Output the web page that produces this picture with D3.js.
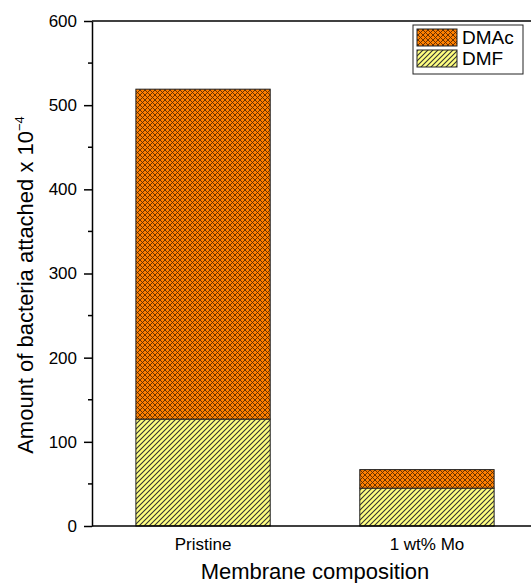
<!DOCTYPE html>
<html>
<head>
<meta charset="utf-8">
<script src="https://cdn.jsdelivr.net/npm/d3@7"></script>
<style>
  body { margin: 0; background: #fff; }
  text { font-family: Arial, 'Liberation Sans', sans-serif; }
</style>
</head>
<body>
<div id="chart"></div>
<script>
const width = 531;
const height = 583;

// data
const categories = ['Pristine', '1 wt% Mo'];
const series = ['DMF', 'DMAc'];
const dmfValues = [127, 45];
const dmacValues = [392, 22]; // stacked on top of DMF
const yTicks = [0, 100, 200, 300, 400, 500, 600];

const margin = { top: 21, bottom: 57, left: 92 };

const svg = d3.select('#chart').append('svg').attr('width', width).attr('height', height);

// patterns
const defs = svg.append('defs');
const pDmf = defs.append('pattern')
	.attr('id', 'hatchDmf')
	.attr('patternUnits', 'userSpaceOnUse')
	.attr('width', 5).attr('height', 5);
pDmf.append('rect').attr('width', 5).attr('height', 5).attr('fill', '#ffff80');
pDmf.append('path').attr('d', 'M-1,1 l2,-2 M0,5 l5,-5 M4,6 l2,-2')
	.attr('stroke', '#333').attr('stroke-width', 1.1);

const pDmac = defs.append('pattern')
	.attr('id', 'hatchDmac')
	.attr('patternUnits', 'userSpaceOnUse')
	.attr('width', 5).attr('height', 5);
pDmac.append('rect').attr('width', 5).attr('height', 5).attr('fill', '#ff8000');
pDmac.append('path').attr('d', 'M-1,1 l2,-2 M0,5 l5,-5 M4,6 l2,-2 M-1,4 l2,2 M0,0 l5,5 M4,-1 l2,2')
	.attr('stroke', '#5a2a00').attr('stroke-width', 0.9);

const x = d3.scaleBand()
	.domain(categories)
	.range([margin.left, 538])
	.paddingInner(0.4)
	.paddingOuter(0.196);

const y = d3.scaleLinear()
	.domain([0, 600])
	.range([height - margin.bottom, margin.top]);

// stacked bars
const rows = categories.map((c, i) => ({ cat: c, DMF: dmfValues[i], DMAc: dmacValues[i] }));
const stack = d3.stack().keys(series)(rows);
const fills = { DMF: 'url(#hatchDmf)', DMAc: 'url(#hatchDmac)' };

svg.append('g')
	.selectAll('g')
	.data(stack)
	.join('g')
	.attr('fill', (d) => fills[d.key])
	.selectAll('rect')
	.data((d) => d)
	.join('rect')
	.attr('x', (d) => x(d.data.cat))
	.attr('y', (d) => y(d[1]))
	.attr('width', x.bandwidth())
	.attr('height', (d) => y(d[0]) - y(d[1]))
	.attr('stroke', '#222')
	.attr('stroke-width', 1);

// y axis
const yAxis = svg.append('g')
	.attr('transform', `translate(${margin.left},0)`)
	.call(d3.axisLeft(y).tickValues(yTicks).tickSize(8).tickPadding(7).tickSizeOuter(0));
yAxis.select('.domain').attr('stroke', '#000').attr('stroke-width', 1.5);
yAxis.selectAll('.tick line').attr('stroke', '#000').attr('stroke-width', 1.5);
yAxis.selectAll('.tick text').style('font-size', '17px').attr('fill', '#000');

// minor ticks
svg.append('g')
	.selectAll('line')
	.data(d3.range(50, 600, 100))
	.join('line')
	.attr('x1', margin.left - 4)
	.attr('x2', margin.left)
	.attr('y1', (d) => y(d))
	.attr('y2', (d) => y(d))
	.attr('stroke', '#000')
	.attr('stroke-width', 1.5);

// x axis (bottom) and top frame
svg.append('line')
	.attr('x1', margin.left).attr('x2', width)
	.attr('y1', y(0)).attr('y2', y(0))
	.attr('stroke', '#000').attr('stroke-width', 1.5);
svg.append('line')
	.attr('x1', margin.left).attr('x2', width)
	.attr('y1', y(600)).attr('y2', y(600))
	.attr('stroke', '#000').attr('stroke-width', 1.5);

svg.append('g')
	.selectAll('text')
	.data(categories)
	.join('text')
	.attr('x', (d) => x(d) + x.bandwidth() / 2)
	.attr('y', y(0) + 24)
	.attr('text-anchor', 'middle')
	.style('font-size', '17px')
	.text((d) => d);

// axis titles
svg.append('text')
	.attr('x', 315)
	.attr('y', 579)
	.attr('text-anchor', 'middle')
	.style('font-size', '22px')
	.text('Membrane composition');

const yTitle = svg.append('text')
	.attr('transform', 'translate(33,285) rotate(-90)')
	.attr('text-anchor', 'middle')
	.style('font-size', '22px');
yTitle.append('tspan').text('Amount of bacteria attached x 10');
yTitle.append('tspan').attr('dy', '-9').style('font-size', '13px').text('\u22124');

// legend
const legend = svg.append('g').attr('transform', 'translate(413,25)');
legend.append('rect')
	.attr('width', 110).attr('height', 49)
	.attr('fill', '#fff').attr('stroke', '#222').attr('stroke-width', 1);
const legendItems = ['DMAc', 'DMF'];
legendItems.forEach((k, i) => {
	legend.append('rect')
		.attr('x', 4).attr('y', 4 + i * 21)
		.attr('width', 40).attr('height', 17)
		.attr('fill', fills[k]).attr('stroke', '#222');
	legend.append('text')
		.attr('x', 49).attr('y', 19 + i * 21)
		.style('font-size', '19px')
		.text(k);
});
</script>
</body>
</html>
